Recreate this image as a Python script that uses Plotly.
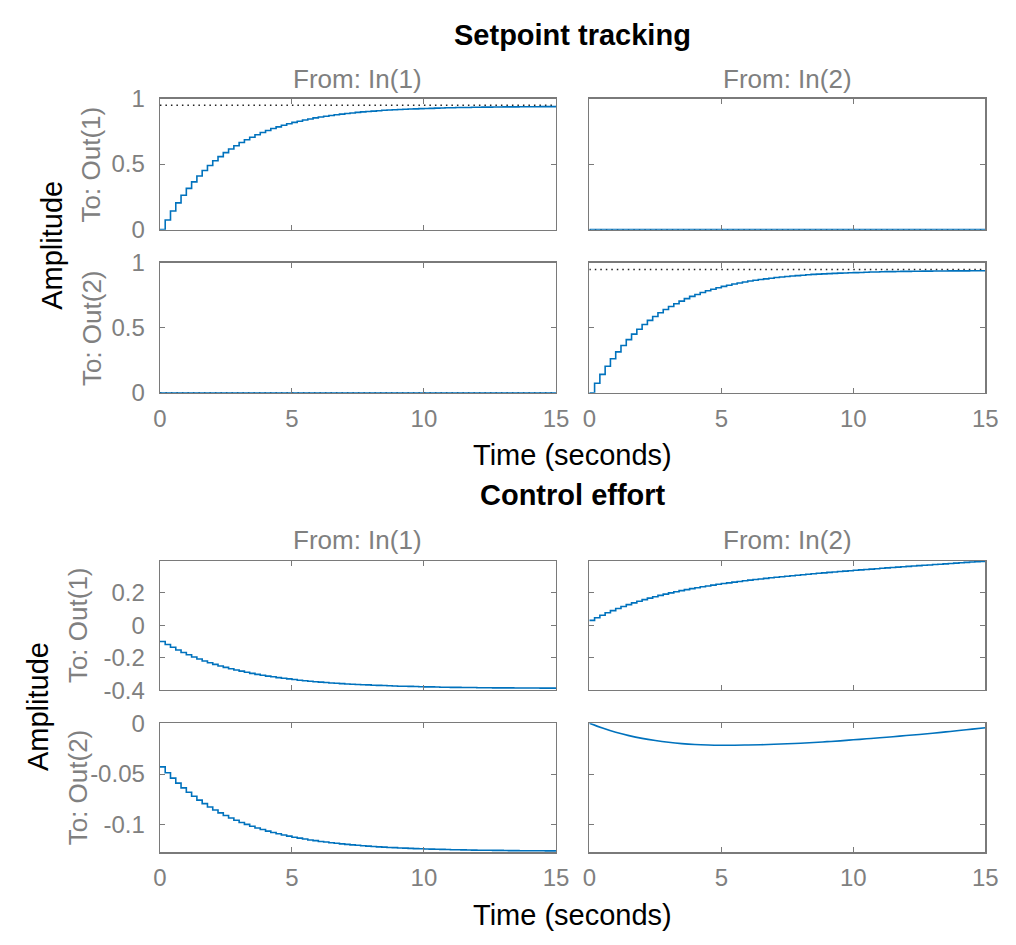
import plotly.graph_objects as go

# ---------------- data ----------------
TS = 0.2            # sample time of the stair-step responses (s)
TS_SMOOTH = 0.5     # sampling used for the smooth In(2)->Out(2) effort curve
SS_TIME = [0, 15]   # time span of steady-state reference lines

# Setpoint tracking: In(1)->Out(1) and In(2)->Out(2) responses
TRACK_DIAG = [0.000, 0.074, 0.142, 0.204, 0.262, 0.315, 0.364, 0.409, 0.451, 0.489,
              0.525, 0.557, 0.587, 0.615, 0.640, 0.664, 0.685, 0.705, 0.724, 0.741,
              0.756, 0.771, 0.784, 0.796, 0.808, 0.818, 0.827, 0.836, 0.844, 0.852,
              0.859, 0.865, 0.871, 0.876, 0.881, 0.886, 0.890, 0.894, 0.898, 0.901,
              0.904, 0.907, 0.910, 0.912, 0.914, 0.916, 0.918, 0.920, 0.921, 0.923,
              0.924, 0.925, 0.927, 0.928, 0.929, 0.930, 0.931, 0.931, 0.932, 0.933,
              0.933, 0.934, 0.934, 0.935, 0.935, 0.936, 0.936, 0.936, 0.937, 0.937,
              0.937, 0.937, 0.938, 0.938, 0.938, 0.938]
# Cross-coupling responses (flat at zero)
TRACK_CROSS = [0.0, 0.0]
# Steady-state levels (dotted lines): diagonal, cross
TRACK_SS_DIAG = [0.948, 0.948]
TRACK_SS_CROSS = [0.0, 0.0]

# Control effort
EFFORT_11 = [-0.100, -0.119, -0.136, -0.153, -0.168, -0.182, -0.196, -0.208, -0.220, -0.231,
             -0.241, -0.251, -0.260, -0.268, -0.276, -0.283, -0.290, -0.297, -0.303, -0.308,
             -0.314, -0.318, -0.323, -0.327, -0.331, -0.335, -0.339, -0.342, -0.345, -0.348,
             -0.351, -0.353, -0.356, -0.358, -0.360, -0.362, -0.364, -0.365, -0.367, -0.368,
             -0.370, -0.371, -0.372, -0.373, -0.375, -0.376, -0.376, -0.377, -0.378, -0.379,
             -0.380, -0.380, -0.381, -0.382, -0.382, -0.383, -0.383, -0.384, -0.384, -0.384,
             -0.385, -0.385, -0.385, -0.386, -0.386, -0.386, -0.386, -0.387, -0.387, -0.387,
             -0.387, -0.387, -0.388, -0.388, -0.388, -0.388]
EFFORT_12 = [0.0300, 0.0466, 0.0622, 0.0768, 0.0906, 0.1036, 0.1158, 0.1273, 0.1382, 0.1485,
             0.1582, 0.1674, 0.1761, 0.1843, 0.1921, 0.1996, 0.2066, 0.2134, 0.2197, 0.2258,
             0.2317, 0.2372, 0.2426, 0.2477, 0.2526, 0.2573, 0.2618, 0.2662, 0.2704, 0.2744,
             0.2783, 0.2821, 0.2858, 0.2894, 0.2929, 0.2963, 0.2995, 0.3027, 0.3059, 0.3089,
             0.3119, 0.3149, 0.3177, 0.3206, 0.3233, 0.3261, 0.3287, 0.3314, 0.3340, 0.3366,
             0.3391, 0.3416, 0.3441, 0.3465, 0.3490, 0.3514, 0.3538, 0.3561, 0.3585, 0.3608,
             0.3631, 0.3654, 0.3677, 0.3700, 0.3722, 0.3745, 0.3767, 0.3790, 0.3812, 0.3834,
             0.3856, 0.3878, 0.3900, 0.3922, 0.3943, 0.3965]
EFFORT_21 = [-0.0430, -0.0487, -0.0540, -0.0590, -0.0636, -0.0679, -0.0719, -0.0757, -0.0791, -0.0824,
             -0.0854, -0.0882, -0.0908, -0.0932, -0.0955, -0.0976, -0.0995, -0.1014, -0.1031, -0.1046,
             -0.1061, -0.1075, -0.1088, -0.1099, -0.1111, -0.1121, -0.1130, -0.1139, -0.1148, -0.1155,
             -0.1163, -0.1169, -0.1176, -0.1181, -0.1187, -0.1192, -0.1197, -0.1201, -0.1205, -0.1209,
             -0.1212, -0.1216, -0.1219, -0.1222, -0.1224, -0.1227, -0.1229, -0.1231, -0.1233, -0.1235,
             -0.1237, -0.1238, -0.1240, -0.1241, -0.1242, -0.1244, -0.1245, -0.1246, -0.1247, -0.1248,
             -0.1249, -0.1249, -0.1250, -0.1251, -0.1251, -0.1252, -0.1253, -0.1253, -0.1254, -0.1254,
             -0.1254, -0.1255, -0.1255, -0.1256, -0.1256, -0.1256]
EFFORT_22 = [0.0, -0.0048, -0.0090, -0.0123, -0.0150, -0.0171, -0.0188, -0.0201, -0.0210, -0.0215,
             -0.0217, -0.0217, -0.0215, -0.0212, -0.0208, -0.0203, -0.0197, -0.0190, -0.0182, -0.0174,
             -0.0164, -0.0154, -0.0144, -0.0133, -0.0122, -0.0111, -0.0099, -0.0086, -0.0073, -0.0059,
             -0.0045]

X_TICKS = [0, 5, 10, 15]
X_TICKTEXT = ["0", "5", "10", "15"]
Y_TICKS_TRACK = [0, 0.5, 1]
Y_TICKTEXT_TRACK = ["0", "0.5", "1"]
Y_TICKS_EFF1 = [-0.4, -0.2, 0, 0.2]
Y_TICKTEXT_EFF1 = ["-0.4", "-0.2", "0", "0.2"]
Y_TICKS_EFF2 = [-0.1, -0.05, 0]
Y_TICKTEXT_EFF2 = ["-0.1", "-0.05", "0"]

INPUTS = ["From: In(1)", "From: In(2)"]
OUTPUTS = ["To: Out(1)", "To: Out(2)"]

# ---------------- styling / layout ----------------
W, H = 1016, 945
BLUE = "#0072BD"
GRAY = "#808080"
BOX = "#7a7a7a"
FONT = "Liberation Sans, Arial, Helvetica, sans-serif"
TICK_SIZE = 24
LABEL_SIZE = 26
AXTITLE_SIZE = 29
TITLE_SIZE = 29

COLS_PX = [(156, 560), (594, 998)]
ROWS_PX = [(87, 222), (256, 390), (563, 696), (730, 863)]
Y_RANGES = [[0, 1], [0, 1], [-0.4, 0.397], [-0.127, 0]]
Y_TICKS = [(Y_TICKS_TRACK, Y_TICKTEXT_TRACK), (Y_TICKS_TRACK, Y_TICKTEXT_TRACK),
           (Y_TICKS_EFF1, Y_TICKTEXT_EFF1), (Y_TICKS_EFF2, Y_TICKTEXT_EFF2)]

def px_x(p):
    return p / W

def px_y(p):
    return 1 - p / H

fig = go.Figure()

def axis_id(r, c):
    return r * 2 + c + 1

def ref(prefix, n):
    return prefix if n == 1 else f"{prefix}{n}"

layout_axes = {}
for r in range(4):
    for c in range(2):
        n = axis_id(r, c)
        xk = "xaxis" if n == 1 else f"xaxis{n}"
        yk = "yaxis" if n == 1 else f"yaxis{n}"
        layout_axes[xk] = dict(
            domain=[px_x(COLS_PX[c][0]), px_x(COLS_PX[c][1])],
            anchor=ref("y", n), range=[0, 15],
            tickvals=X_TICKS, ticktext=X_TICKTEXT,
            showticklabels=(r in (1, 3)), ticklabelstandoff=4,
            ticks="inside", ticklen=5, tickcolor=BOX, tickwidth=1,
            showline=True, linecolor=BOX, linewidth=1.3, mirror="allticks",
            showgrid=False, zeroline=False,
            tickfont=dict(family=FONT, size=TICK_SIZE, color=GRAY),
        )
        layout_axes[yk] = dict(
            domain=[px_y(ROWS_PX[r][1]), px_y(ROWS_PX[r][0])],
            anchor=ref("x", n), range=Y_RANGES[r],
            tickvals=Y_TICKS[r][0], ticktext=Y_TICKS[r][1],
            showticklabels=(c == 0), ticklabelstandoff=9,
            ticks="inside", ticklen=5, tickcolor=BOX, tickwidth=1,
            showline=True, linecolor=BOX, linewidth=1.3, mirror="allticks",
            showgrid=False, zeroline=False,
            tickfont=dict(family=FONT, size=TICK_SIZE, color=GRAY),
        )

def add_step(y, r, c, dx=TS, shape="hv"):
    n = axis_id(r, c)
    fig.add_trace(go.Scatter(y=y, x0=0, dx=dx, mode="lines",
                             line=dict(color=BLUE, width=1.6, shape=shape),
                             xaxis=ref("x", n), yaxis=ref("y", n),
                             showlegend=False, hoverinfo="skip"))

def add_line(x, y, r, c, color=BLUE, dash="solid", width=1.6):
    n = axis_id(r, c)
    fig.add_trace(go.Scatter(x=x, y=y, mode="lines",
                             line=dict(color=color, width=width, dash=dash),
                             xaxis=ref("x", n), yaxis=ref("y", n),
                             showlegend=False, hoverinfo="skip"))

DOT = "1.5px,4px"
# Setpoint tracking
add_line(SS_TIME, TRACK_SS_DIAG, 0, 0, color="#222222", dash=DOT, width=1.5)
add_step(TRACK_DIAG, 0, 0)
add_line(SS_TIME, TRACK_SS_CROSS, 0, 1, color="#222222", dash=DOT, width=1.5)
add_line(SS_TIME, TRACK_CROSS, 0, 1)
add_line(SS_TIME, TRACK_SS_CROSS, 1, 0, color="#222222", dash=DOT, width=1.5)
add_line(SS_TIME, TRACK_CROSS, 1, 0)
add_line(SS_TIME, TRACK_SS_DIAG, 1, 1, color="#222222", dash=DOT, width=1.5)
add_step(TRACK_DIAG, 1, 1)

# Control effort
add_step(EFFORT_11, 2, 0)
add_step(EFFORT_12, 2, 1)
add_step(EFFORT_21, 3, 0)
add_step(EFFORT_22, 3, 1, dx=TS_SMOOTH, shape="spline")

annotations = []
def text(s, x, y, size, color, bold=False, angle=0):
    annotations.append(dict(
        text=f"<b>{s}</b>" if bold else s, x=px_x(x), y=px_y(y),
        xref="paper", yref="paper", showarrow=False, textangle=angle,
        xanchor="center", yanchor="middle",
        font=dict(family=FONT, size=size, color=color)))

mid_x = (COLS_PX[0][0] + COLS_PX[1][1]) / 2
# (title, title y, "From" y, rows, "Time" y, row-label x, "Amplitude" x)
for title, ty, fy, rows, tx_y, ox, ax in [("Setpoint tracking", 22, 67, (0, 1), 454, 86, 46),
                                          ("Control effort", 495, 541, (2, 3), 928, 72, 31)]:
    text(title, mid_x, ty, TITLE_SIZE, "black", bold=True)
    for c in range(2):
        text(INPUTS[c], sum(COLS_PX[c]) / 2, fy, LABEL_SIZE, GRAY)
    for i, r in enumerate(rows):
        text(OUTPUTS[i], ox, sum(ROWS_PX[r]) / 2, LABEL_SIZE, GRAY, angle=-90)
    text("Amplitude", ax, (ROWS_PX[rows[0]][0] + ROWS_PX[rows[1]][1]) / 2, AXTITLE_SIZE, "black", angle=-90)
    text("Time (seconds)", mid_x, tx_y, AXTITLE_SIZE, "black")

fig.update_layout(width=W, height=H, margin=dict(l=0, r=0, t=0, b=0),
                  paper_bgcolor="white", plot_bgcolor="white",
                  annotations=annotations, **layout_axes)

fig.write_html(
    "out.html",
    config={"displayModeBar": False, "staticPlot": True},
    post_script=("document.documentElement.style.margin='0px';"
                 "document.documentElement.style.overflow='hidden';"
                 "document.body.style.margin='0px';"
                 "document.body.style.overflow='hidden';"),
)
